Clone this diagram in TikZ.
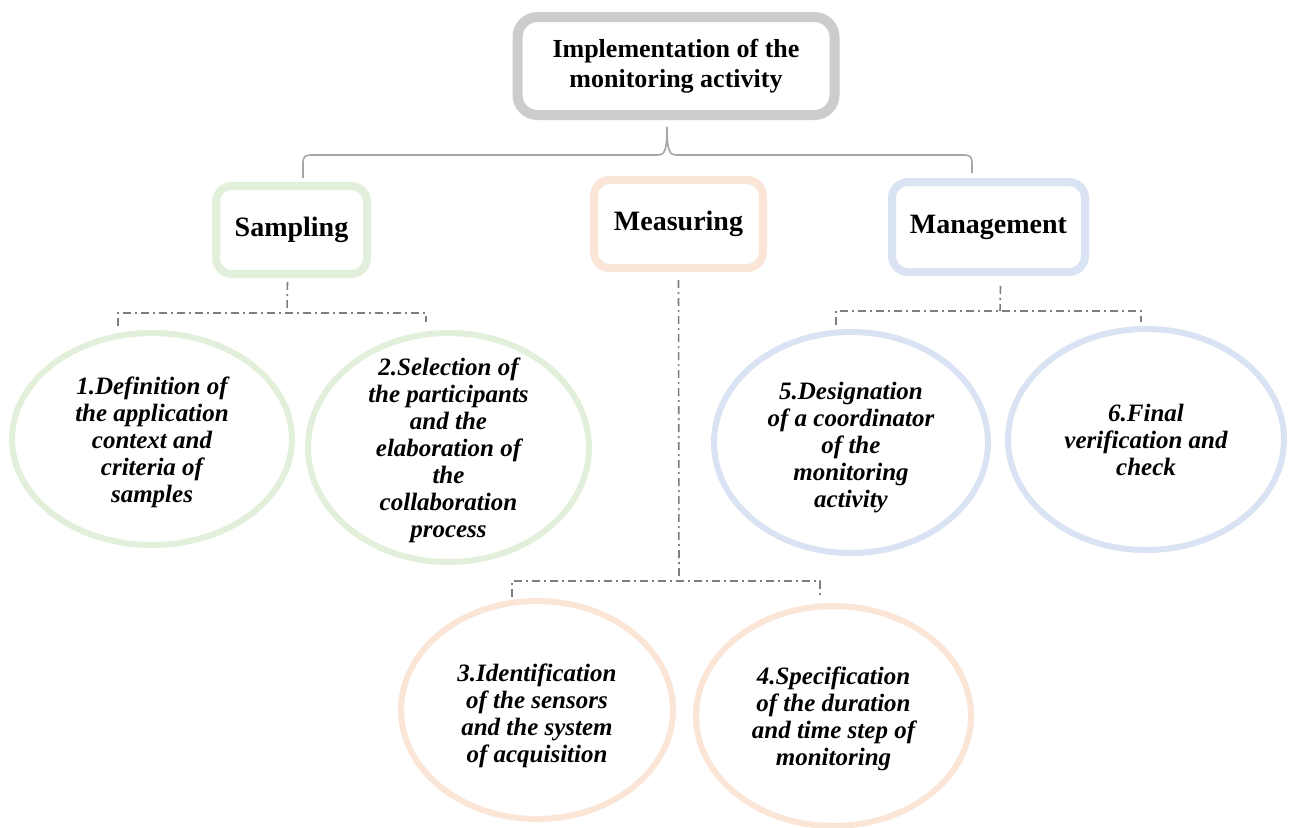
\documentclass[tikz,border=0pt]{standalone}
\usepackage{fontspec}
\setmainfont{Liberation Serif}
\usetikzlibrary{shapes.geometric}
\definecolor{boxgray}{RGB}{204,204,204}
\definecolor{sgreen}{RGB}{226,239,218}
\definecolor{speach}{RGB}{251,229,214}
\definecolor{sblue}{RGB}{218,227,243}
\definecolor{bracegray}{RGB}{166,166,166}
\definecolor{ddgray}{RGB}{127,127,127}
\tikzset{
  topbox/.style={draw=boxgray, line width=10pt, rounded corners=20pt, fill=white,
    minimum width=317pt, minimum height=98pt, align=center,
    font=\fontsize{26}{30}\selectfont\bfseries},
  catbox/.style={line width=8pt, rounded corners=16pt, fill=white, align=center,
    font=\fontsize{28}{30}\selectfont\bfseries},
  bubble/.style={ellipse, line width=6pt, inner sep=0pt},
  bubtext/.style={align=center, inner sep=0pt,
    font=\fontsize{25}{27}\selectfont\bfseries\itshape},
  dd/.style={draw=ddgray, line width=1.6pt, dash pattern=on 8pt off 4pt on 2pt off 4pt},
  brace/.style={draw=bracegray, line width=1.6pt}
}
\begin{document}
\begin{tikzpicture}[x=1pt,y=-1pt]
\useasboundingbox (0,0) rectangle (1290,827);
\fill[white] (0,0) rectangle (1290,827);

% top
\node[topbox] (top) at (676,66) {Implementation of the\\monitoring activity};

% categories
\node[catbox, draw=sgreen, minimum width=151pt, minimum height=88pt] (samp) at (291.5,230) {Sampling};
\node[catbox, draw=speach, minimum width=169pt, minimum height=88pt] (meas) at (678.5,224) {Measuring};
\node[catbox, draw=sblue, minimum width=193pt, minimum height=90pt] (mgmt) at (988.5,227) {Management};

% bubbles
\node[bubble, draw=sgreen, minimum width=280pt, minimum height=212pt] (e1) at (152,439) {};
\node[bubtext] (t1) at ([yshift=-3pt]e1.center) {1.Definition of\\the application\\context and\\criteria of\\samples};
\node[bubble, draw=sgreen, minimum width=281pt, minimum height=229pt] (e2) at (448.5,447.5) {};
\node[bubtext] (t2) at ([yshift=-3pt]e2.center) {2.Selection of\\the participants\\and the\\elaboration of\\the\\collaboration\\process};
\node[bubble, draw=speach, minimum width=272pt, minimum height=218pt] (e3) at (537,710) {};
\node[bubtext] (t3) at ([yshift=-6pt]e3.center) {3.Identification\\of the sensors\\and the system\\of acquisition};
\node[bubble, draw=speach, minimum width=275pt, minimum height=220pt] (e4) at (833.5,716) {};
\node[bubtext] (t4) at ([yshift=-2.5pt]e4.center) {4.Specification\\of the duration\\and time step of\\monitoring};
\node[bubble, draw=sblue, minimum width=274pt, minimum height=221pt] (e5) at (851,442.5) {};
\node[bubtext] (t5) at ([yshift=-5pt]e5.center) {5.Designation\\of a coordinator\\of the\\monitoring\\activity};
\node[bubble, draw=sblue, minimum width=276pt, minimum height=221pt] (e6) at (1146,439.5) {};
\node[bubtext] (t6) at (e6.center) {6.Final\\verification and\\check};

% brace from top box to categories
\coordinate (bl) at (303,178);
\coordinate (br) at (972,173);
\path[brace] (bl) -- (303,163) .. controls (303,157) and (305,155) .. (311,155)
  -- (658,155) .. controls (664,155) and (667,152) .. (667,127)
  .. controls (667,152) and (670,155) .. (676,155)
  -- (964,155) .. controls (970,155) and (972,157) .. (972,163) -- (br);

% sampling connector
\coordinate (s1) at (118,326);
\coordinate (s2) at (426,322);
\path[dd] (samp.south) ++(-4,4) -- (287,313);
\path[dd] (s1) -- (118,313) -- (426,313) -- (s2);

% measuring connector
\coordinate (m1) at (512,597);
\coordinate (m2) at (820,597);
\path[dd] (meas.south) ++(0,8) -- (679,580);
\path[dd] (m1) -- (512,581) -- (820,581) -- (m2);

% management connector
\coordinate (g1) at (836,325);
\coordinate (g2) at (1141,322);
\path[dd] (mgmt.south) ++(12,10) -- (1000,311);
\path[dd] (g1) -- (836,311) -- (1141,311) -- (g2);
\end{tikzpicture}
\end{document}
